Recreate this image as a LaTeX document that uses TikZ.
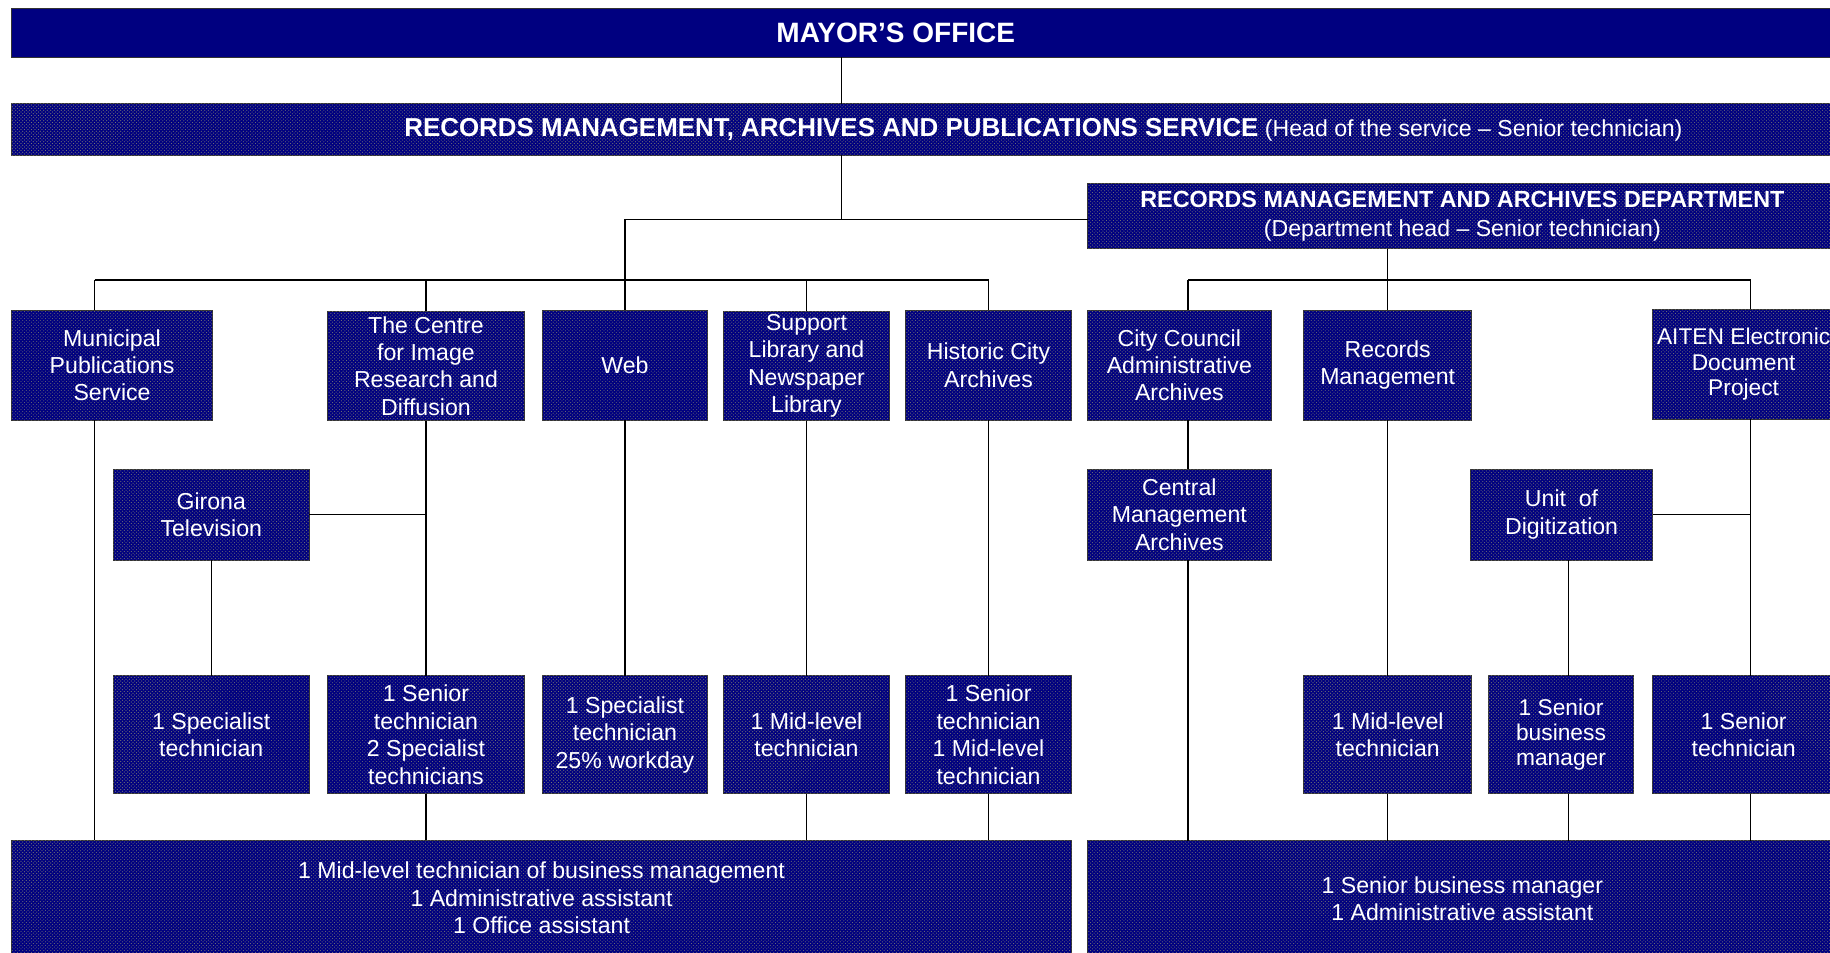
\documentclass[tikz,border=0pt]{standalone}
\usepackage{fontspec}
\setmainfont{Liberation Sans}
\usetikzlibrary{patterns}
\definecolor{navy}{RGB}{0,0,128}
\tikzset{
  x=1pt, y=-1pt,
  basebox/.style={draw=black!80, line width=0.8pt, fill=navy,
    inner sep=0pt, outer sep=0pt, text=white, align=center,
    font=\fontsize{19.8}{23.5}\selectfont},
  unitbox/.style={basebox, postaction={pattern=crosshatch dots, pattern color=black!55}},
  txt/.style={text=white, inner sep=0pt, outer sep=0pt, align=center},
  link/.style={draw=black, line width=1.2pt},
  r1/.style={unitbox, minimum height=94pt},
  r2/.style={unitbox, minimum height=78pt},
  r3/.style={unitbox, minimum height=101pt},
}
\begin{document}
\begin{tikzpicture}
\useasboundingbox (0,0) rectangle (1568,816);
\fill[white] (0,0) rectangle (1568,816);
\clip (0,0) rectangle (1568,816);

% top boxes
\node[basebox, minimum width=1570pt, minimum height=42pt] (mayor) at (795,28) {};
\node[txt, font=\fontsize{24}{28}\selectfont\bfseries] (mayortxt) at (767.5,28) {MAYOR'S OFFICE};
\node[unitbox, minimum width=1570pt, minimum height=44pt] (service) at (795,111) {};
\node[txt, font=\fontsize{19.8}{23.5}\selectfont] (servicetxt) at (894,111)
  {{\fontsize{22.2}{26}\selectfont\bfseries RECORDS MANAGEMENT, ARCHIVES AND PUBLICATIONS SERVICE} (Head of the service -- Senior technician)};
\node[unitbox, minimum width=642pt, minimum height=56pt, font=\fontsize{19.8}{25}\selectfont] (dept) at (1253,185)
  {{\fontsize{20}{25}\selectfont\bfseries RECORDS MANAGEMENT AND ARCHIVES DEPARTMENT}\\(Department head -- Senior technician)};

% row 1
\node[r1, minimum width=172pt] (mps) at (96,313) {Municipal\\Publications\\Service};
\node[r1, minimum width=168pt] (cird) at (365,313.5) {The Centre\\for Image\\Research and\\Diffusion};
\node[r1, minimum width=141pt] (web) at (535.5,313) {Web};
\node[r1, minimum width=142pt] (slib) at (691,313.5) {Support\\Library and\\Newspaper\\Library};
\node[r1, minimum width=142pt] (hca) at (847,313) {Historic City\\Archives};
\node[r1, minimum width=157pt] (ccaa) at (1010.5,313) {City Council\\Administrative\\Archives};
\node[r1, minimum width=144pt] (rm) at (1189,313) {Records\\Management};
\node[r1, minimum width=156pt, font=\fontsize{19.5}{21.5}\selectfont] (aiten) at (1494,312) {AITEN Electronic\\Document\\Project};

% row 2
\node[r2, minimum width=168pt] (gtv) at (181,441) {Girona\\Television};
\node[r2, minimum width=157pt] (cma) at (1010.5,441) {Central\\Management\\Archives};
\node[r2, minimum width=156pt] (uod) at (1338,441) {Unit~~of\\Digitization};

% row 3
\node[r3, minimum width=168pt] (s1) at (181,629.5) {1 Specialist\\technician};
\node[r3, minimum width=168pt] (s2) at (365,629.5) {1 Senior\\technician\\2 Specialist\\technicians};
\node[r3, minimum width=141pt] (s3) at (535.5,629.5) {1 Specialist\\technician\\25\% workday};
\node[r3, minimum width=142pt] (s4) at (691,629.5) {1 Mid-level\\technician};
\node[r3, minimum width=142pt] (s5) at (847,629.5) {1 Senior\\technician\\1 Mid-level\\technician};
\node[r3, minimum width=144pt] (s6) at (1189,629.5) {1 Mid-level\\technician};
\node[r3, minimum width=125pt, font=\fontsize{19.5}{21.5}\selectfont] (s7) at (1337.5,629.5) {1 Senior\\business\\manager};
\node[r3, minimum width=156pt] (s8) at (1494,629.5) {1 Senior\\technician};

% bottom
\node[unitbox, minimum width=908pt, minimum height=99pt] (bl) at (464,769.5)
  {1 Mid-level technician of business management\\1 Administrative assistant\\1 Office assistant};
\node[unitbox, minimum width=642pt, minimum height=99pt] (br) at (1253,770)
  {1 Senior business manager\\1 Administrative assistant};

% helper coordinates
\coordinate (j1) at (721,188);
\coordinate (lb) at (0,240);
\coordinate (xm) at (81,0);
\coordinate (xcc) at (1018,0);
\coordinate (xai) at (1500,0);
\coordinate (xud) at (1344,0);

% connectors
\draw[link] (mayor.south -| j1) -- (service.north -| j1);
\draw[link] (service.south -| j1) -- (j1);
\draw[link] (j1) -- (j1 -| dept.west);
\draw[link] (j1) -- (j1 -| web.north) -- (web.north);
\draw[link] (lb -| xm) -- (lb -| hca.north);
\draw[link] (lb -| xm) -- (mps.north -| xm);
\draw[link] (lb -| cird.north) -- (cird.north);
\draw[link] (lb -| slib.north) -- (slib.north);
\draw[link] (lb -| hca.north) -- (hca.north);

\draw[link] (dept.south -| rm.north) -- (rm.north);
\draw[link] (lb -| xcc) -- (lb -| xai);
\draw[link] (lb -| xcc) -- (ccaa.north -| xcc);
\draw[link] (lb -| xai) -- (aiten.north -| xai);

\draw[link] (ccaa.south -| xcc) -- (cma.north -| xcc);
\draw[link] (cma.south -| xcc) -- (br.north -| xcc);

\draw[link] (mps.south -| xm) -- (bl.north -| xm);
\draw[link] (cird.south) -- (s2.north);
\draw[link] (gtv.east) -- (gtv.east -| cird.south);
\draw[link] (gtv.south) -- (s1.north);
\draw[link] (web.south) -- (s3.north);
\draw[link] (slib.south) -- (s4.north);
\draw[link] (hca.south) -- (s5.north);
\draw[link] (s2.south) -- (bl.north -| s2.south);
\draw[link] (s4.south) -- (bl.north -| s4.south);
\draw[link] (s5.south) -- (bl.north -| s5.south);

\draw[link] (rm.south) -- (s6.north);
\draw[link] (s6.south) -- (br.north -| s6.south);
\draw[link] (uod.south -| xud) -- (s7.north -| xud);
\draw[link] (s7.south -| xud) -- (br.north -| xud);
\draw[link] (aiten.south -| xai) -- (s8.north -| xai);
\draw[link] (s8.south -| xai) -- (br.north -| xai);
\draw[link] (uod.east) -- (uod.east -| xai);
\end{tikzpicture}
\end{document}
